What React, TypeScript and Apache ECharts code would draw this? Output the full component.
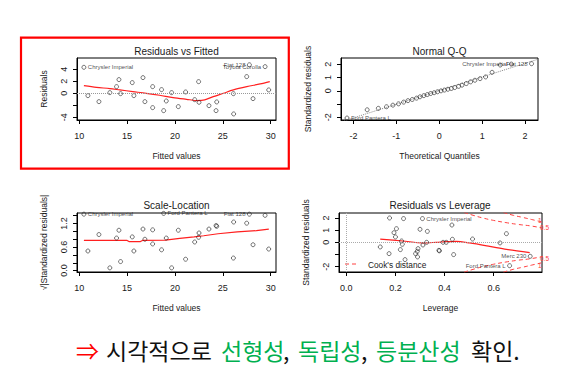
import { useEffect, useRef } from 'react';
import * as echarts from 'echarts';

// ---- Residuals vs Fitted / Scale-Location (shared fitted values) ----
const fitted = [10.49, 10.91, 12.06, 13.2, 13.9, 14.15, 14.32, 15.54, 15.71, 16.66, 16.86, 17.67, 17.67, 18.6, 18.82, 19.09, 19.65, 20.35, 21.11, 22.06, 22.47, 22.51, 23.55, 24.29, 24.36, 26.1, 26.13, 27.49, 27.77, 28.15, 29.41, 29.79];
const residuals = [4.33, -0.39, -1.39, 0.11, 1.11, 2.28, -0.06, 1.78, -0.39, 2.61, -1.39, 1.11, -2.39, 0.61, -2.89, -1.28, 0.11, -2.22, 0.22, -1.06, 1.94, -1.5, -2.06, -2.89, -1.44, -0.06, -3.44, 2.78, 4.75, -0.89, 4.44, 0.56];
const sqrtStdResid = [1.44, 0.5, 0.92, 0.07, 0.83, 1.03, 0.23, 0.86, 0.5, 1.06, 0.8, 0.68, 1.04, 0.53, 1.46, 0.83, 0.07, 1.03, 0.29, 0.73, 0.85, 0.96, 1.06, 1.15, 1.13, 0.32, 1.24, 1.21, 1.44, 0.66, 1.41, 0.55];
const residLabelIdx = [0, 28, 30];
const residLabelText = ['Chrysler Imperial', 'Fiat 128', 'Toyota Corolla'];
const scaleLabelIdx = [0, 14, 28];
const scaleLabelText = ['Chrysler Imperial', 'Ford Pantera L', 'Fiat 128'];
const residSmoothX = [10.49, 11.8, 13.2, 14.25, 15.6, 17.0, 18.4, 19.8, 21.2, 22.4, 23.1, 24.0, 25.05, 26.1, 27.5, 28.9, 29.9];
const residSmoothY = [1.28, 1.0, 0.78, 0.56, 0.28, 0.0, -0.33, -0.72, -1.0, -1.22, -1.1, -0.56, 0.0, 0.56, 1.1, 1.56, 1.94];
const scaleSmoothX = [10.49, 15.0, 15.2, 16.4, 16.6, 19.0, 20.5, 22.0, 23.0, 24.5, 26.5, 28.5, 29.8];
const scaleSmoothY = [0.77, 0.77, 0.74, 0.74, 0.77, 0.78, 0.82, 0.86, 0.89, 0.94, 0.99, 1.02, 1.06];

// ---- Normal Q-Q ----
const theoQuantiles = [-2.15, -1.68, -1.42, -1.23, -1.08, -0.95, -0.83, -0.73, -0.63, -0.53, -0.45, -0.36, -0.28, -0.2, -0.12, -0.04, 0.04, 0.12, 0.2, 0.28, 0.36, 0.45, 0.53, 0.63, 0.73, 0.83, 0.95, 1.08, 1.23, 1.42, 1.68, 2.15];
const qqStdResid = [-2.05, -1.43, -1.32, -1.2, -1.08, -0.98, -0.85, -0.74, -0.65, -0.55, -0.45, -0.36, -0.28, -0.2, -0.14, -0.07, 0.0, 0.06, 0.12, 0.18, 0.25, 0.34, 0.43, 0.55, 0.68, 0.8, 0.92, 1.05, 1.4, 1.95, 2.02, 2.05];
const qqLabelIdx = [0, 30, 31];
const qqLabelText = ['Ford Pantera L', 'Chrysler Imperial', 'Fiat 128'];
const qqLineX = [-2.4, 2.4];
const qqLineY = [-2.45, 2.49];

// ---- Residuals vs Leverage ----
const leverage = [0.176, 0.233, 0.31, 0.43, 0.204, 0.3, 0.33, 0.194, 0.2, 0.652, 0.225, 0.228, 0.138, 0.22, 0.327, 0.312, 0.292, 0.289, 0.282, 0.29, 0.394, 0.407, 0.432, 0.514, 0.626, 0.377, 0.379, 0.437, 0.174, 0.239, 0.749, 0.665];
const levStdResid = [2.0, 1.95, 1.95, 1.42, 1.12, 1.07, 0.9, 0.79, 0.44, 0.71, 0.11, -0.16, -0.38, -0.6, 0.0, -0.22, -0.52, -0.74, -0.93, -1.2, 0.0, 0.0, 0.25, 0.27, -0.05, -0.66, -0.7, -1.01, -0.93, -1.42, -1.15, -1.92];
const levLabelIdx = [2, 30, 31];
const levLabelText = ['Chrysler Imperial', 'Merc 230', 'Ford Pantera L'];
const levSmoothX = [0.138, 0.23, 0.312, 0.366, 0.407, 0.448, 0.502, 0.584, 0.652, 0.747];
const levSmoothY = [0.27, 0.11, -0.05, 0.0, 0.05, 0.08, -0.05, -0.33, -0.58, -0.85];
const cook05X = [0.48, 0.52, 0.56, 0.6, 0.65, 0.7, 0.75, 0.8];
const cook05Y = [2.45, 2.2, 1.98, 1.8, 1.62, 1.47, 1.35, 1.17];
const cook1X = [0.64, 0.68, 0.72, 0.76, 0.8];
const cook1Y = [2.45, 2.22, 2.04, 1.85, 1.66];

// ---- tick values ----
const fittedTicks = [10, 15, 20, 25, 30];
const residTicks = [-4, -2, 0, 2, 4];
const residTickLabels = [-4, 0, 2, 4];
const qqTicks = [-2, -1, 0, 1, 2];
const qqYLabels = [-2, 0, 1, 2];
const slTicks = [0, 0.2, 0.4, 0.6, 0.8, 1.0, 1.2, 1.4];
const slLabels = [0, 0.6, 1.2];
const levXTicks = [0, 0.2, 0.4, 0.6];
const levYTicks = [-2, -1, 0, 1, 2];
const levYLabels = [-2, 0, 1, 2];

const FONT = 'Liberation Sans, Arial, sans-serif';
const TXT = '#1a1a1a';

function pointData(xs: number[], ys: number[], idx: number[], names: string[], mid: number) {
  return xs.map((x, i) => {
    const k = idx.indexOf(i);
    if (k < 0) return [x, ys[i]];
    return {
      value: [x, ys[i]],
      label: {
        show: true,
        formatter: String(names[k]),
        position: x < mid ? 'right' : 'left',
        distance: 1.5,
        fontSize: 6,
        fontFamily: FONT,
        color: TXT,
      },
    };
  });
}

function pairs(xs: number[], ys: number[]) {
  return xs.map((x, i) => [x, ys[i]]);
}

function xAxis(gridIndex: number, min: number, max: number, ticks: number[], labels: number[], name: string, digits: number) {
  return {
    type: 'value', gridIndex, min, max, name,
    nameLocation: 'middle', nameGap: 31,
    nameTextStyle: { fontSize: 8.5, color: TXT, fontFamily: FONT },
    axisLine: { show: true, onZero: false, lineStyle: { color: '#000', width: 1 } },
    axisTick: { show: true, length: 4, customValues: ticks, lineStyle: { color: '#000', width: 1 } },
    axisLabel: { customValues: labels, fontSize: 9, color: TXT, fontFamily: FONT, margin: 11, formatter: (v: number) => v.toFixed(digits) },
    splitLine: { show: false },
  };
}

function yAxis(gridIndex: number, min: number, max: number, ticks: number[], labels: number[], name: string, digits: number, nameGap: number) {
  return {
    type: 'value', gridIndex, min, max, name,
    nameLocation: 'middle', nameGap,
    nameTextStyle: { fontSize: 8.5, color: TXT, fontFamily: FONT },
    axisLine: { show: true, onZero: false, lineStyle: { color: '#000', width: 1 } },
    axisTick: { show: true, length: 4, customValues: ticks, lineStyle: { color: '#000', width: 1 } },
    axisLabel: { customValues: labels, rotate: 90, fontSize: 9, color: TXT, fontFamily: FONT, margin: 9, formatter: (v: number) => v.toFixed(digits) },
    splitLine: { show: false },
  };
}

const scatterStyle = { color: 'rgba(0,0,0,0)', borderColor: '#222', borderWidth: 0.8 };
const smoothStyle = { color: '#ff2020', width: 1.2 };

export default function App() {
  const ref = useRef<HTMLDivElement>(null);
  useEffect(() => {
    if (!ref.current) return;
    const chart = echarts.init(ref.current, null, { renderer: 'svg' });
    const grid = (left: number, top: number, width: number, height: number) => ({
      left, top, width, height, show: true, borderColor: '#000', borderWidth: 1, backgroundColor: 'transparent', containLabel: false,
    });
    const title = (text: string, x: number, y: number) => ({
      type: 'text', x, y, style: { text, fontSize: 10, fontFamily: FONT, fill: TXT, align: 'center', verticalAlign: 'middle' },
    });
    const korean = (text: string, x: number, fill: string) => ({
      type: 'text', x, y: 350, style: { text, fontSize: 23, fontFamily: 'Noto Sans CJK KR', fill, align: 'left', verticalAlign: 'middle' },
    });
    const zeroLine = (axis: 'xAxis' | 'yAxis') => ({ [axis]: 0 });

    const option: any = {
      animation: false,
      backgroundColor: '#ffffff',
      grid: [grid(77, 58, 199, 62), grid(341, 58, 197, 62), grid(77, 213, 199, 59), grid(339, 213, 203, 59)],
      xAxis: [
        xAxis(0, 9.77, 30.55, fittedTicks, fittedTicks, 'Fitted values', 0),
        xAxis(1, -2.29, 2.3, qqTicks, qqTicks, 'Theoretical Quantiles', 0),
        xAxis(2, 9.77, 30.55, fittedTicks, fittedTicks, 'Fitted values', 0),
        xAxis(3, -0.03, 0.797, levXTicks, levXTicks, 'Leverage', 1),
      ],
      yAxis: [
        yAxis(0, -4.45, 5.88, residTicks, residTickLabels, 'Residuals', 0, 29),
        yAxis(1, -2.2, 2.48, qqTicks, qqYLabels, 'Standardized residuals', 0, 29),
        yAxis(2, -0.036, 1.47, slTicks, slLabels, '√|Standardized residuals|', 1, 29),
        yAxis(3, -2.44, 2.41, levYTicks, levYLabels, 'Standardized residuals', 0, 29),
      ],
      series: [
        {
          type: 'line', xAxisIndex: 0, yAxisIndex: 0, data: pairs(residSmoothX, residSmoothY), smooth: 0.3,
          showSymbol: false, lineStyle: smoothStyle, silent: true, z: 2,
          markLine: { silent: true, symbol: 'none', label: { show: false }, lineStyle: { type: 'dotted', color: '#999', width: 1 }, data: [zeroLine('yAxis')] },
        },
        {
          type: 'scatter', xAxisIndex: 0, yAxisIndex: 0, symbol: 'circle', symbolSize: 4, itemStyle: scatterStyle, z: 3,
          data: pointData(fitted, residuals, residLabelIdx, residLabelText, 20.16),
        },
        {
          type: 'line', xAxisIndex: 1, yAxisIndex: 1, data: pairs(qqLineX, qqLineY), showSymbol: false, silent: true,
          lineStyle: { color: '#888', width: 1, type: 'dotted' }, z: 2,
        },
        {
          type: 'scatter', xAxisIndex: 1, yAxisIndex: 1, symbol: 'circle', symbolSize: 4, itemStyle: scatterStyle, z: 3,
          data: pointData(theoQuantiles, qqStdResid, qqLabelIdx, qqLabelText, 0),
        },
        {
          type: 'line', xAxisIndex: 2, yAxisIndex: 2, data: pairs(scaleSmoothX, scaleSmoothY), showSymbol: false,
          lineStyle: smoothStyle, silent: true, z: 2,
        },
        {
          type: 'scatter', xAxisIndex: 2, yAxisIndex: 2, symbol: 'circle', symbolSize: 4, itemStyle: scatterStyle, z: 3,
          data: pointData(fitted, sqrtStdResid, scaleLabelIdx, scaleLabelText, 20.16),
        },
        {
          type: 'line', xAxisIndex: 3, yAxisIndex: 3, data: pairs(levSmoothX, levSmoothY), smooth: 0.3, showSymbol: false,
          lineStyle: smoothStyle, silent: true, z: 2,
          markLine: { silent: true, symbol: 'none', label: { show: false }, lineStyle: { type: 'dotted', color: '#aaa', width: 1 }, data: [zeroLine('yAxis'), zeroLine('xAxis')] },
        },
        ...[
          [cook05X, cook05Y, 1], [cook05X, cook05Y, -1], [cook1X, cook1Y, 1], [cook1X, cook1Y, -1],
        ].map(([xs, ys, s]: any) => ({
          type: 'line', xAxisIndex: 3, yAxisIndex: 3, data: pairs(xs, ys.map((v: number) => v * s)), smooth: true,
          showSymbol: false, silent: true, lineStyle: { color: '#ff4040', width: 1, type: [4, 3] }, z: 2,
        })),
        {
          type: 'scatter', xAxisIndex: 3, yAxisIndex: 3, symbol: 'circle', symbolSize: 4, itemStyle: scatterStyle, z: 3,
          data: pointData(leverage, levStdResid, levLabelIdx, levLabelText, 0.38),
        },
      ],
      graphic: [
        title('Residuals vs Fitted', 176.5, 51.5),
        title('Normal Q-Q', 439.5, 51.5),
        title('Scale-Location', 176.5, 205),
        title('Residuals vs Leverage', 440, 205),
        { type: 'line', shape: { x1: 345, y1: 264, x2: 359, y2: 264 }, style: { stroke: '#ff4040', lineWidth: 1, lineDash: [4, 3] } },
        { type: 'text', x: 368, y: 265, style: { text: "Cook's distance", fontSize: 8.3, fontFamily: FONT, fill: TXT, verticalAlign: 'middle' } },
        { type: 'text', x: 538, y: 220, style: { text: '1', fontSize: 6.5, fontFamily: FONT, fill: '#ff4040', verticalAlign: 'middle' } },
        { type: 'text', x: 540, y: 227.5, style: { text: '0.5', fontSize: 6.5, fontFamily: FONT, fill: '#ff4040', verticalAlign: 'middle' } },
        { type: 'text', x: 540, y: 258, style: { text: '0.5', fontSize: 6.5, fontFamily: FONT, fill: '#ff4040', verticalAlign: 'middle' } },
        { type: 'text', x: 538, y: 265, style: { text: '1', fontSize: 6.5, fontFamily: FONT, fill: '#ff4040', verticalAlign: 'middle' } },
        { type: 'rect', shape: { x: 21, y: 37.7, width: 267.8, height: 131 }, style: { fill: 'none', stroke: '#ff0000', lineWidth: 2.2 } },
        korean('⇒', 76, '#ff0000'),
        korean('시각적으로', 106, '#111111'),
        korean('선형성', 221, '#00b050'),
        korean(',', 283, '#111111'),
        korean('독립성', 298, '#00b050'),
        korean(',', 361, '#111111'),
        korean('등분산성', 376, '#00b050'),
        korean('확인.', 471, '#111111'),
      ],
    };
    chart.setOption(option);
    return () => chart.dispose();
  }, []);
  return <div ref={ref} style={{ position: 'fixed', left: 0, top: 0, width: 581, height: 373 }} />;
}
